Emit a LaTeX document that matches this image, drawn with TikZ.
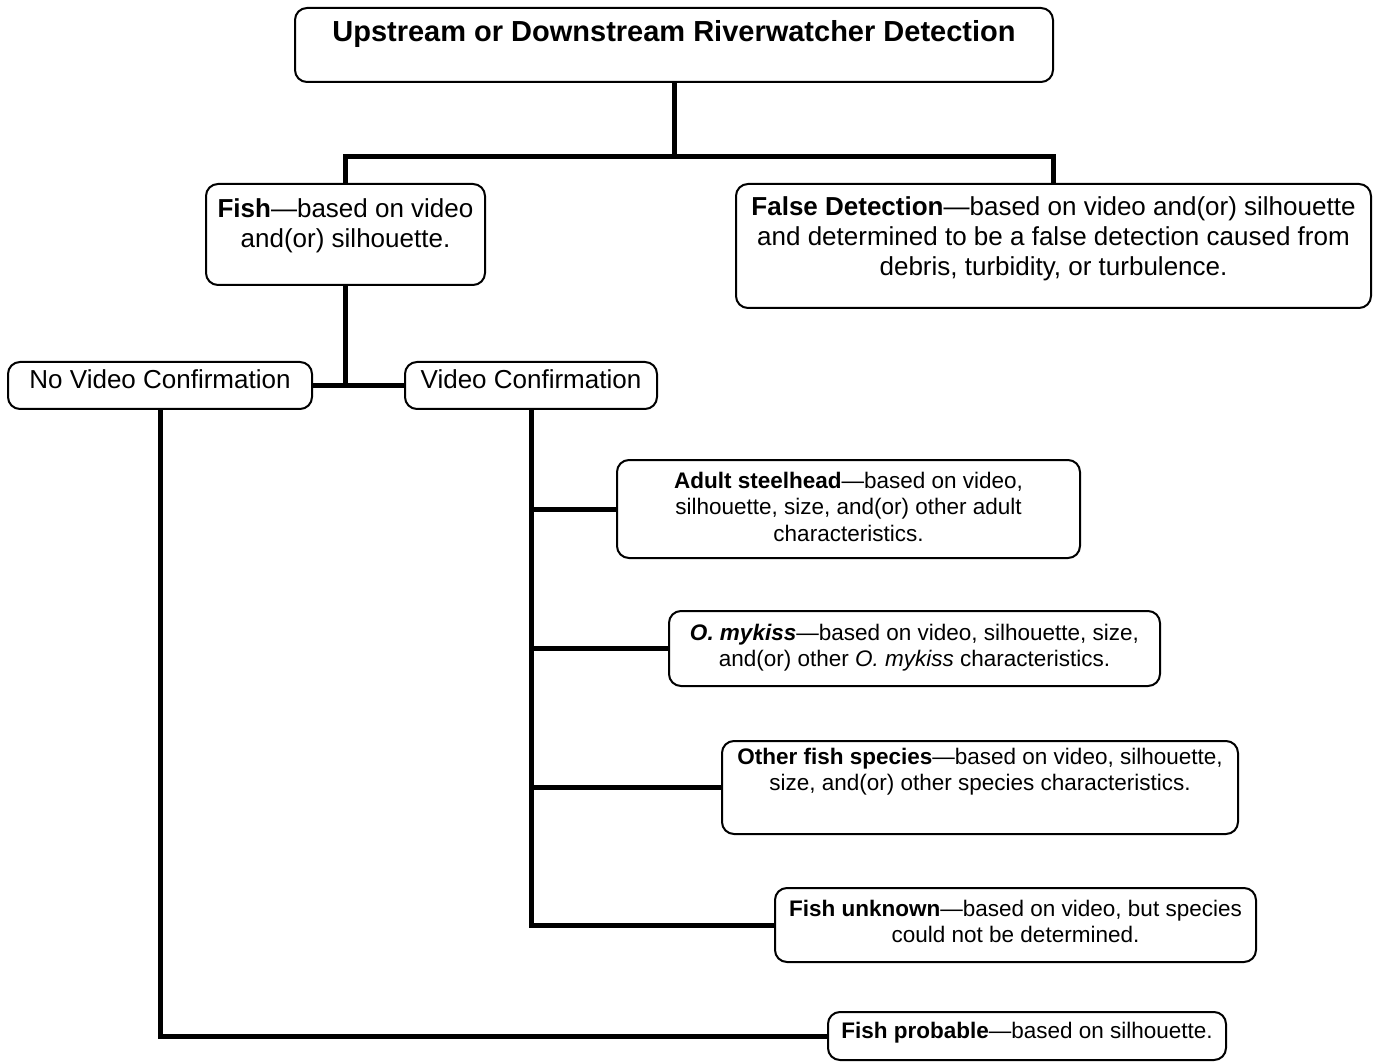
\documentclass[tikz,border=0pt]{standalone}
\usepackage{fontspec}
\setmainfont{Liberation Sans}
\begin{document}
\begin{tikzpicture}[x=1pt,y=-1pt,
  box/.style={draw, line width=2pt, rounded corners=12pt, inner sep=0pt},
  conn/.style={line width=5pt},
  big/.style={font=\fontsize{26}{30}\selectfont, align=center, inner sep=0pt, anchor=north},
  small/.style={font=\fontsize{22.5}{26.5}\selectfont, align=center, inner sep=0pt, anchor=north}]
\useasboundingbox (0,0) rectangle (1379,1064);
% boxes
\node[box, minimum width=758, minimum height=74] (top) at (674,45) {};
\node[box, minimum width=279, minimum height=101] (fish) at (345.5,234.5) {};
\node[box, minimum width=635, minimum height=124] (false) at (1053.5,246) {};
\node[box, minimum width=304, minimum height=47] (novid) at (160,385.5) {};
\node[box, minimum width=252, minimum height=47] (vid) at (531,385.5) {};
\node[box, minimum width=463, minimum height=98] (adult) at (848.5,509) {};
\node[box, minimum width=491, minimum height=75] (mykiss) at (914.5,648.5) {};
\node[box, minimum width=516, minimum height=93] (other) at (980,787.5) {};
\node[box, minimum width=481, minimum height=74] (unk) at (1015.5,925) {};
\node[box, minimum width=398, minimum height=48] (prob) at (1027,1036) {};
% texts
\node[anchor=north, inner sep=0pt, font=\fontsize{29}{34}\selectfont\bfseries] (topt) at (674,20.3) {Upstream or Downstream Riverwatcher Detection};
\node[big] (fisht) at (345.5,198.4) {\textbf{Fish}—based on video\\and(or) silhouette.};
\node[big] (falset) at (1053.5,196.4) {\textbf{False Detection}—based on video and(or) silhouette\\and determined to be a false detection caused from\\debris, turbidity, or turbulence.};
\node[big] (novidt) at (160,369.4) {No Video Confirmation};
\node[big] (vidt) at (531,369.4) {Video Confirmation};
\node[small] (adultt) at (848.5,471.7) {\textbf{Adult steelhead}—based on video,\\silhouette, size, and(or) other adult\\characteristics.};
\node[small] (mykisst) at (914.5,623.7) {\textbf{\textit{O. mykiss}}—based on video, silhouette, size,\\and(or) other \textit{O. mykiss} characteristics.};
\node[small] (othert) at (980,747.7) {\textbf{Other fish species}—based on video, silhouette,\\size, and(or) other species characteristics.};
\node[small] (unkt) at (1015.5,899.7) {\textbf{Fish unknown}—based on video, but species\\could not be determined.};
\node[small] (probt) at (1027,1021.7) {\textbf{Fish probable}—based on silhouette.};
% connectors
\draw[conn] (top.south) -- ([yshift=-76pt]top.south);
\draw[conn] (fish.north) -- ++(0,-26) -| (false.north);
\draw[conn] (fish.south) -- (fish.south |- novid.east);
\draw[conn] (novid.east) -- (vid.west);
\draw[conn] (novid.south) |- (prob.west);
\draw[conn] (vid.south) |- (unk.west);
\draw[conn] (vid.south |- adult.west) -- (adult.west);
\draw[conn] (vid.south |- mykiss.west) -- (mykiss.west);
\draw[conn] (vid.south |- other.west) -- (other.west);
\end{tikzpicture}
\end{document}
